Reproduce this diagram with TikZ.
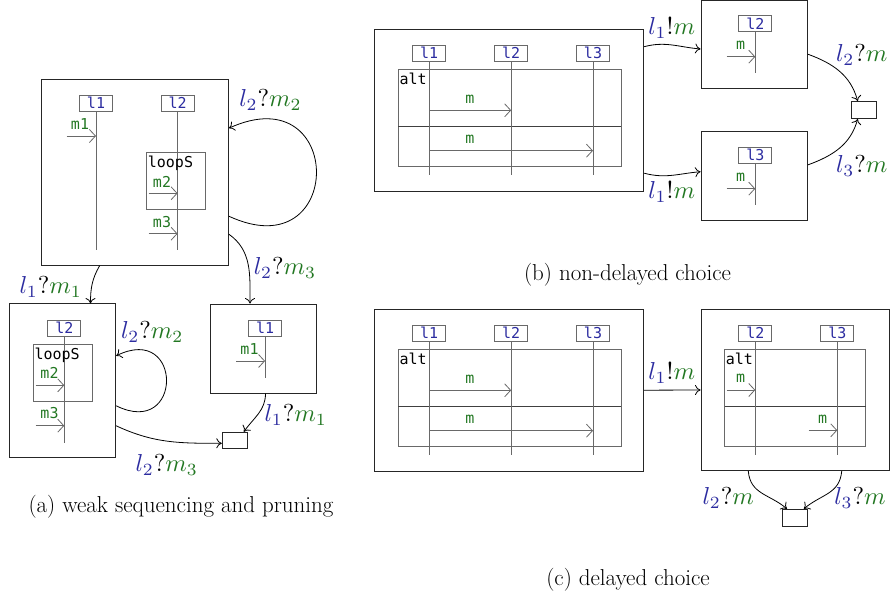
\documentclass[tikz,border=0pt]{standalone}
\usepackage{fontspec}
\newfontfamily\dejamono{DejaVu Sans Mono}
\usetikzlibrary{arrows.meta,calc}
\definecolor{lb}{RGB}{44,44,160}
\definecolor{lg}{RGB}{34,119,34}
\definecolor{gry}{RGB}{105,105,105}
\newcommand{\trl}[3]{$\textcolor{lb}{#1}#2\textcolor{lg}{#3}$}
\tikzset{
 sbox/.style={draw=black!85, line width=1pt, inner sep=0pt},
 head/.style={draw=gry, line width=0.8pt, minimum width=33pt, minimum height=15.7pt, inner sep=0pt, text=lb, font=\dejamono\fontsize{15}{18}\selectfont},
 life/.style={draw=gry, line width=0.8pt},
 frm/.style={draw=gry, line width=0.8pt},
 divl/.style={draw=black!75, line width=0.8pt},
 msg/.style={draw=gry, line width=0.8pt, -{Straight Barb[length=6pt,width=13pt]}},
 mlab/.style={text=lg, font=\dejamono\fontsize{15}{18}\selectfont, inner sep=0pt},
 kw/.style={font=\dejamono\fontsize{15}{18}\selectfont, inner sep=0pt, anchor=base west},
 tr/.style={draw=black, line width=0.8pt, -{To[length=5.5pt,width=10pt]}},
 tlab/.style={font=\fontsize{10}{12}\selectfont, inner sep=0pt, scale=2.45, transform shape},
 captxt/.style={font=\fontsize{23}{27}\selectfont, inner sep=0pt},
}
\begin{document}
\begin{tikzpicture}[x=1pt,y=1pt]
\useasboundingbox (0,0) rectangle (891,-596);
% ---------------- (a) ----------------
\node[sbox, minimum width=187.3pt, minimum height=185.7pt] (A) at (134.7,-172.2) {};
\node[head] (Al1) at (96,-103.2) {l1};
\node[head] (Al2) at (177.6,-103.2) {l2};
\draw[life] (Al1.south) -- (96,-250);
\draw[life] (Al2.south) -- (177.6,-250);
\draw[msg] (66.7,-136) -- (96,-136);
\node[mlab] at (80,-124) {m1};
\draw[frm] (146.7,-152.3) rectangle (205.7,-209.3);
\node[kw] at (147.7,-167.2) {loopS};
\draw[msg] (148.7,-193.3) -- (177.6,-193.3);
\node[mlab] at (162,-181.7) {m2};
\draw[msg] (148.7,-233.7) -- (177.6,-233.7);
\node[mlab] at (162,-221.7) {m3};

\node[sbox, minimum width=106.4pt, minimum height=153.7pt] (B) at (62.5,-380.8) {};
\node[head] (Bl2) at (64.3,-328.2) {l2};
\draw[life] (Bl2.south) -- (64.3,-442.7);
\draw[frm] (33.3,-344.3) rectangle (92.7,-401.3);
\node[kw] at (34.3,-359.3) {loopS};
\draw[msg] (35.7,-385.3) -- (64.3,-385.3);
\node[mlab] at (49.5,-373.3) {m2};
\draw[msg] (35.7,-425.7) -- (64.3,-425.7);
\node[mlab] at (49.5,-413.3) {m3};

\node[sbox, minimum width=105.6pt, minimum height=89pt] (C) at (263.5,-348.5) {};
\node[head] (Cl1) at (265.1,-328.2) {l1};
\draw[life] (Cl1.south) -- (265.1,-377.7);
\draw[msg] (236,-361) -- (265.1,-361);
\node[mlab] at (249.5,-349.3) {m1};

\node[sbox, minimum width=25pt, minimum height=16pt] (endA) at (234.8,-440.3) {};

\draw[tr] ([yshift=-44pt]A.east) .. controls +(116.7,-54) and +(116.7,53) .. ([yshift=44pt]A.east);
\node[tlab] at (270.5,-100) {\trl{l_2}{?}{m_2}};
\draw[tr] ([xshift=-35pt]A.south) to[out=-120,in=90] ([xshift=28pt]B.north);
\node[tlab] at (50.8,-286.7) {\trl{l_1}{?}{m_1}};
\draw[tr] ([yshift=-62pt]A.east) to[out=-35,in=90] ([xshift=-13.5pt]C.north);
\node[tlab] at (285,-268.3) {\trl{l_2}{?}{m_3}};
\draw[tr] ([yshift=-25pt]B.east) .. controls +(67,-33) and +(67,33) .. ([yshift=25pt]B.east);
\node[tlab] at (152.3,-331.7) {\trl{l_2}{?}{m_2}};
\draw[tr] ([yshift=-45pt]B.east) to[out=-25,in=180] ([yshift=-3pt]endA.west);
\node[tlab] at (166.7,-465) {\trl{l_2}{?}{m_3}};
\draw[tr] ([xshift=2pt]C.south) to[out=-90,in=55] ([xshift=-4pt]endA.north east);
\node[tlab] at (295.8,-415) {\trl{l_1}{?}{m_1}};
\node[captxt] at (181,-506.7) {(a) weak sequencing and pruning};

% ---------------- (b) ----------------
\node[sbox, minimum width=269.4pt, minimum height=161.7pt] (D) at (509,-110.2) {};
\node[head] (Dl1) at (429.2,-53.2) {l1};
\node[head] (Dl2) at (511.2,-53.2) {l2};
\node[head] (Dl3) at (593,-53.2) {l3};
\draw[frm] (398.3,-69.7) rectangle (621,-166.7);
\draw[divl] (398.3,-126.3) -- (621,-126.3);
\node[kw] at (399.3,-84.5) {alt};
\draw[life] (Dl1.south) -- (429.2,-175);
\draw[life] (Dl2.south) -- (511.2,-175);
\draw[life] (Dl3.south) -- (593,-175);
\draw[msg] (429.2,-110.3) -- (511.2,-110.3);
\node[mlab] at (470,-99) {m};
\draw[msg] (429.2,-150.7) -- (593,-150.7);
\node[mlab] at (470,-139) {m};

\node[sbox, minimum width=106.3pt, minimum height=88.3pt] (E) at (754.2,-44.2) {};
\node[head] (El2) at (755.3,-23.3) {l2};
\draw[life] (El2.south) -- (755.3,-72.7);
\draw[msg] (726.7,-56.7) -- (755.3,-56.7);
\node[mlab] at (740.7,-45.7) {m};

\node[sbox, minimum width=106.3pt, minimum height=88.3pt] (F) at (754.2,-175.9) {};
\node[head] (Fl3) at (755.3,-155.3) {l3};
\draw[life] (Fl3.south) -- (755.3,-205);
\draw[msg] (726.7,-188.7) -- (755.3,-188.7);
\node[mlab] at (740.7,-177.7) {m};

\node[sbox, minimum width=24.7pt, minimum height=16.6pt] (G) at (864.3,-110) {};

\draw[tr] ([yshift=63.5pt]D.east) to[out=15,in=175] ([yshift=-4.8pt]E.west);
\node[tlab] at (671.7,-28.3) {\trl{l_1}{!}{m}};
\draw[tr] ([yshift=-63pt]D.east) to[out=-15,in=185] ([yshift=4.2pt]F.west);
\node[tlab] at (671.7,-191.7) {\trl{l_1}{!}{m}};
\draw[tr] ([yshift=-10pt]E.east) to[out=-20,in=105] ([xshift=-6.6pt]G.north);
\node[tlab] at (861.7,-55) {\trl{l_2}{?}{m}};
\draw[tr] ([yshift=11pt]F.east) to[out=20,in=-105] ([xshift=-6.6pt]G.south);
\node[tlab] at (861.7,-166) {\trl{l_3}{?}{m}};
\node[captxt] at (627.5,-275) {(b) non-delayed choice};

% ---------------- (c) ----------------
\node[sbox, minimum width=269.4pt, minimum height=161.7pt] (H) at (509,-390.2) {};
\node[head] (Hl1) at (429.2,-333.2) {l1};
\node[head] (Hl2) at (511.2,-333.2) {l2};
\node[head] (Hl3) at (593,-333.2) {l3};
\draw[frm] (398.3,-349.7) rectangle (621,-446.7);
\draw[divl] (398.3,-406.3) -- (621,-406.3);
\node[kw] at (399.3,-364.5) {alt};
\draw[life] (Hl1.south) -- (429.2,-455);
\draw[life] (Hl2.south) -- (511.2,-455);
\draw[life] (Hl3.south) -- (593,-455);
\draw[msg] (429.2,-390.3) -- (511.2,-390.3);
\node[mlab] at (470,-379) {m};
\draw[msg] (429.2,-430.7) -- (593,-430.7);
\node[mlab] at (470,-419) {m};

\node[sbox, minimum width=188pt, minimum height=161.4pt] (I) at (795,-390) {};
\node[head] (Il2) at (755.3,-333.2) {l2};
\node[head] (Il3) at (837.3,-333.2) {l3};
\draw[frm] (724.7,-349.7) rectangle (865.7,-446.7);
\draw[divl] (724.7,-406.3) -- (865.7,-406.3);
\node[kw] at (725.7,-364.5) {alt};
\draw[life] (Il2.south) -- (755.3,-455);
\draw[life] (Il3.south) -- (837.3,-455);
\draw[msg] (726.7,-390) -- (755.3,-390);
\node[mlab] at (740.7,-378.3) {m};
\draw[msg] (808.7,-430.3) -- (837.3,-430.3);
\node[mlab] at (822.7,-419) {m};

\node[sbox, minimum width=25pt, minimum height=16.7pt] (J) at (794.8,-517.7) {};

\draw[tr] (H.east) -- (I.west);
\node[tlab] at (671.7,-372.8) {\trl{l_1}{!}{m}};
\draw[tr] ([xshift=-46.7pt]I.south) to[out=-85,in=140,looseness=1.1] ([xshift=-7.8pt]J.north);
\node[tlab] at (728.3,-498.3) {\trl{l_2}{?}{m}};
\draw[tr] ([xshift=46.7pt]I.south) to[out=-95,in=40,looseness=1.1] ([xshift=9pt]J.north);
\node[tlab] at (860,-498.3) {\trl{l_3}{?}{m}};
\node[captxt] at (628,-580) {(c) delayed choice};
\end{tikzpicture}
\end{document}
